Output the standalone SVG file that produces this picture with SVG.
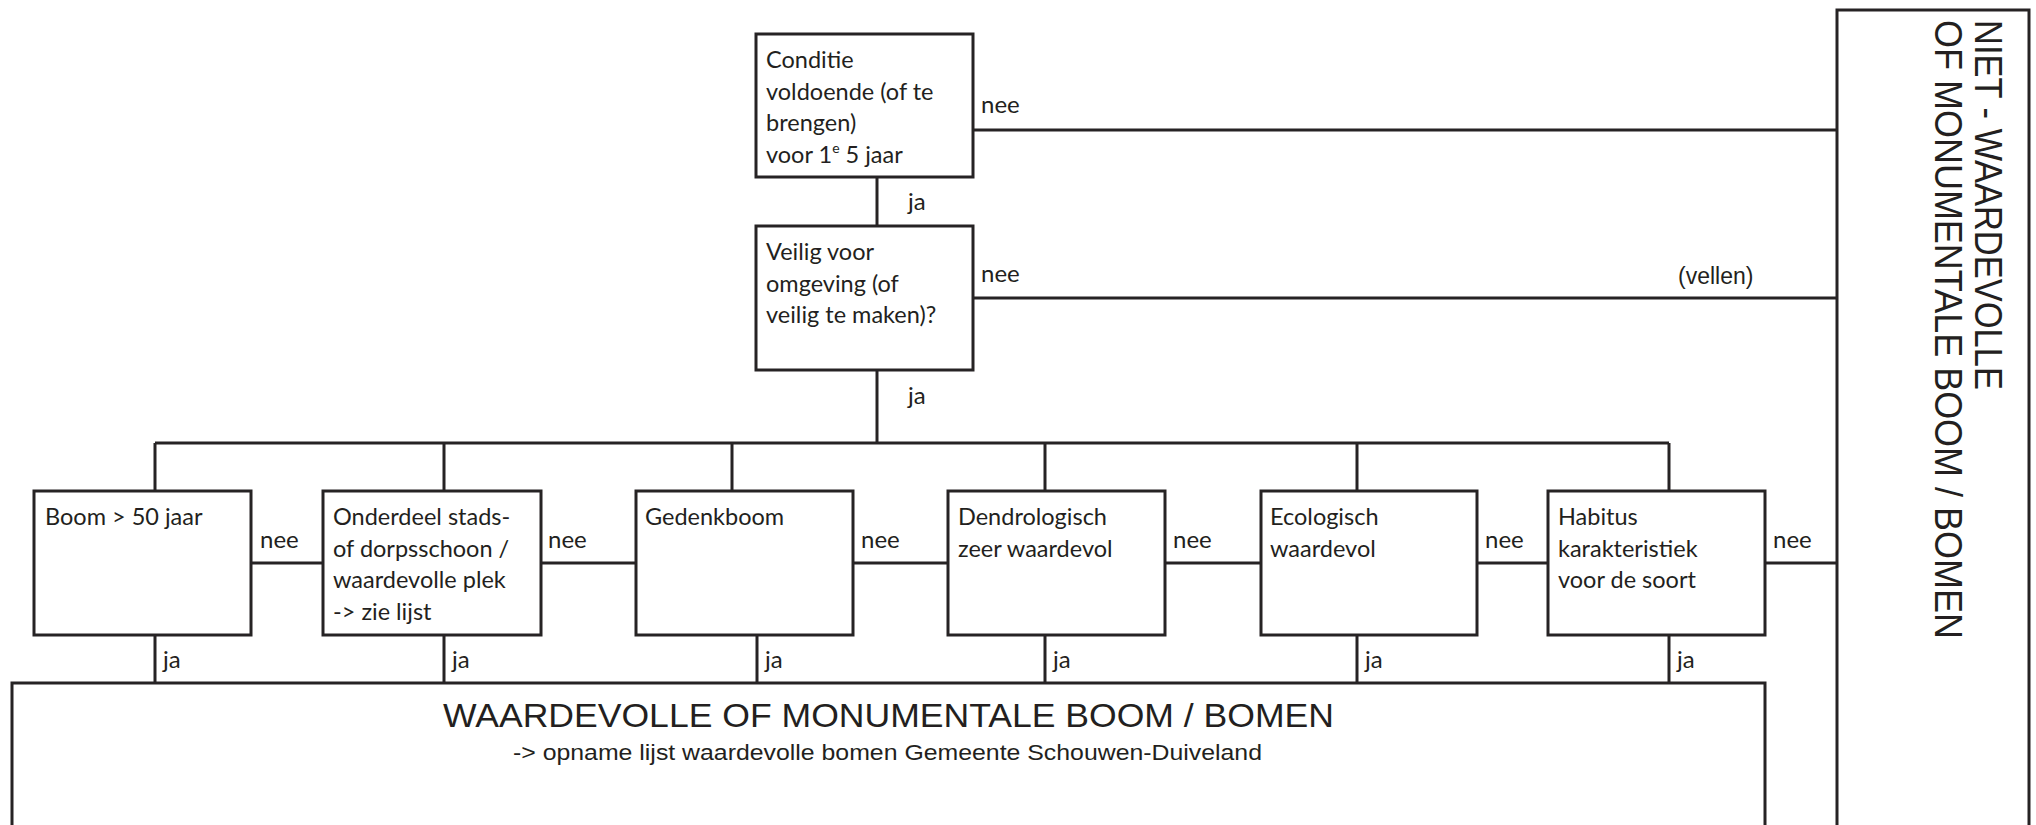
<svg xmlns="http://www.w3.org/2000/svg" width="2036" height="825" viewBox="0 0 2036 825">
  <style>
    .box { fill: #ffffff; stroke: #262324; stroke-width: 3; }
    .ln { fill: none; stroke: #262324; stroke-width: 3; }
    .t { font-family: Lato, "Open Sans", sans-serif; font-size: 23.5px; fill: #231f20; }
    .lbl { font-family: Lato, "Open Sans", sans-serif; font-size: 24px; fill: #231f20; }
    .arial { font-family: "Liberation Sans", Arial, sans-serif; fill: #231f20; }
  </style>
  <rect x="0" y="0" width="2036" height="825" fill="#ffffff"/>

  <!-- connectors -->
  <g id="connectors">
    <!-- "nee" exits of the two top checks -->
    <path class="ln" d="M973 130 H1837"/>
    <path class="ln" d="M973 298 H1837"/>
    <!-- "ja" path down through the top checks -->
    <path class="ln" d="M877 177 V226"/>
    <path class="ln" d="M877 370 V443"/>
    <!-- distribution bus to the six criteria -->
    <path class="ln" d="M155 443 H1669"/>
    <path class="ln" d="M155 443 V491 M444 443 V491 M732 443 V491 M1045 443 V491 M1357 443 V491 M1669 443 V491"/>
    <!-- "nee" chain between criteria -->
    <path class="ln" d="M251 563 H323 M541 563 H636 M853 563 H948 M1165 563 H1261 M1477 563 H1548 M1765 563 H1837"/>
    <!-- "ja" drops into the result box -->
    <path class="ln" d="M155 635 V683 M444 635 V683 M757 635 V683 M1045 635 V683 M1357 635 V683 M1669 635 V683"/>
    <!-- labels -->
    <text class="lbl" x="981" y="113">nee</text>
    <text class="lbl" x="981" y="282">nee</text>
    <text class="lbl" x="908" y="210">ja</text>
    <text class="lbl" x="908" y="404">ja</text>
    <text class="arial" x="1678" y="284" font-size="23">(vellen)</text>
    <text class="lbl" x="260" y="548">nee</text>
    <text class="lbl" x="548" y="548">nee</text>
    <text class="lbl" x="861" y="548">nee</text>
    <text class="lbl" x="1173" y="548">nee</text>
    <text class="lbl" x="1485" y="548">nee</text>
    <text class="lbl" x="1773" y="548">nee</text>
    <text class="lbl" x="163" y="668">ja</text>
    <text class="lbl" x="452" y="668">ja</text>
    <text class="lbl" x="765" y="668">ja</text>
    <text class="lbl" x="1053" y="668">ja</text>
    <text class="lbl" x="1365" y="668">ja</text>
    <text class="lbl" x="1677" y="668">ja</text>
  </g>

  <g id="conditie">
    <rect class="box" x="756" y="34" width="217" height="143"/>
    <text class="t" x="766" y="68">Conditie</text>
    <text class="t" x="766" y="100">voldoende (of te</text>
    <text class="t" x="766" y="131">brengen)</text>
    <text class="t" x="766" y="163">voor 1<tspan font-size="14" dy="-10">e</tspan><tspan dy="10"> 5 jaar</tspan></text>
  </g>

  <g id="veilig">
    <rect class="box" x="756" y="226" width="217" height="144"/>
    <text class="t" x="766" y="260">Veilig voor</text>
    <text class="t" x="766" y="292">omgeving (of</text>
    <text class="t" x="766" y="323">veilig te maken)?</text>
  </g>

  <g id="boom-50">
    <rect class="box" x="34" y="491" width="217" height="144"/>
    <text class="t" x="45" y="525">Boom &gt; 50 jaar</text>
  </g>

  <g id="onderdeel">
    <rect class="box" x="323" y="491" width="218" height="144"/>
    <text class="t" x="333" y="525">Onderdeel stads-</text>
    <text class="t" x="333" y="557">of dorpsschoon /</text>
    <text class="t" x="333" y="588">waardevolle plek</text>
    <text class="t" x="333" y="620">-&gt; zie lijst</text>
  </g>

  <g id="gedenkboom">
    <rect class="box" x="636" y="491" width="217" height="144"/>
    <text class="t" x="645" y="525">Gedenkboom</text>
  </g>

  <g id="dendrologisch">
    <rect class="box" x="948" y="491" width="217" height="144"/>
    <text class="t" x="958" y="525">Dendrologisch</text>
    <text class="t" x="958" y="557">zeer waardevol</text>
  </g>

  <g id="ecologisch">
    <rect class="box" x="1261" y="491" width="216" height="144"/>
    <text class="t" x="1270" y="525">Ecologisch</text>
    <text class="t" x="1270" y="557">waardevol</text>
  </g>

  <g id="habitus">
    <rect class="box" x="1548" y="491" width="217" height="144"/>
    <text class="t" x="1558" y="525">Habitus</text>
    <text class="t" x="1558" y="557">karakteristiek</text>
    <text class="t" x="1558" y="588">voor de soort</text>
  </g>

  <g id="waardevol">
    <rect class="box" x="12" y="683" width="1753" height="160"/>
    <text class="arial" x="443" y="727" font-size="34" textLength="891" lengthAdjust="spacingAndGlyphs">WAARDEVOLLE OF MONUMENTALE BOOM / BOMEN</text>
    <text class="arial" x="513" y="760" font-size="22" textLength="749" lengthAdjust="spacingAndGlyphs">-&gt; opname  lijst waardevolle bomen Gemeente Schouwen-Duiveland</text>
  </g>

  <g id="niet-waardevol">
    <rect class="box" x="1837" y="10" width="192" height="840"/>
    <text class="arial" transform="translate(1975,20) rotate(90)" font-size="38" textLength="370" lengthAdjust="spacingAndGlyphs">NIET - WAARDEVOLLE</text>
    <text class="arial" transform="translate(1935,20) rotate(90)" font-size="38" textLength="619" lengthAdjust="spacingAndGlyphs">OF MONUMENTALE BOOM / BOMEN</text>
  </g>
</svg>
